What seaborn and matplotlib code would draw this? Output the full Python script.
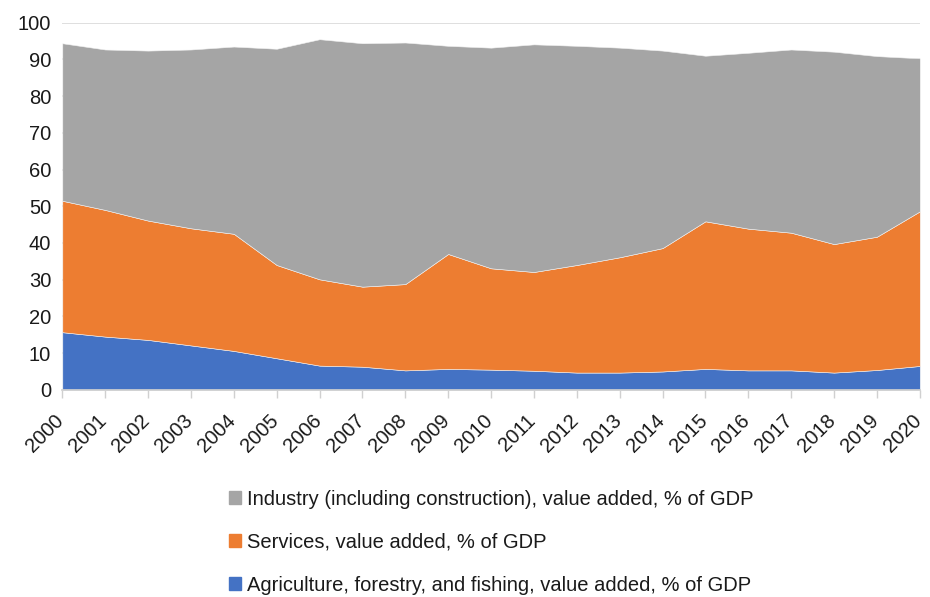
import matplotlib.pyplot as plt
import matplotlib.transforms as mtransforms
import seaborn as sns
from matplotlib.patches import Patch

# data (% of GDP)
years = list(range(2000, 2021))
agriculture = [15.7, 14.5, 13.6, 12.1, 10.6, 8.6, 6.6, 6.3, 5.3, 5.7, 5.5,
               5.2, 4.7, 4.7, 5.0, 5.7, 5.3, 5.3, 4.7, 5.4, 6.5]
agri_plus_services = [51.5, 49.0, 46.1, 44.0, 42.5, 34.0, 30.1, 28.1, 28.8, 37.0, 33.1,
                      32.1, 34.0, 36.1, 38.6, 45.9, 43.9, 42.8, 39.7, 41.7, 48.6]
total = [94.4, 92.7, 92.4, 92.7, 93.5, 92.9, 95.5, 94.4, 94.6, 93.7, 93.2,
         94.1, 93.7, 93.2, 92.4, 91.0, 91.8, 92.7, 92.1, 90.9, 90.3]
services = [s - a for s, a in zip(agri_plus_services, agriculture)]
industry = [t - s for t, s in zip(total, agri_plus_services)]

labels = ["Agriculture, forestry, and fishing, value added, % of GDP",
          "Services, value added, % of GDP",
          "Industry (including construction), value added, % of GDP"]
colors = ["#4472C4", "#ED7D31", "#A5A5A5"]

sns.set_theme(style="white")
plt.rcParams['font.family'] = ['Liberation Sans', 'DejaVu Sans']

fig = plt.figure(figsize=(9.3, 5.97), dpi=100)
ax = fig.add_axes([0.067, 0.347, 0.922, 0.615])

ax.stackplot(years, agriculture, services, industry, colors=colors,
             edgecolor="#f2f2f2", linewidth=0.4, zorder=2)

ax.set_xlim(2000, 2020)
ax.set_ylim(0, 100)
ax.set_yticks(range(0, 101, 10))
ax.set_xticks(years)
ax.set_xticklabels([str(y) for y in years], rotation=45, ha="right",
                   rotation_mode="anchor", fontsize=14.5)
ax.tick_params(axis="y", labelsize=14.5, length=0, pad=8, labelcolor="#1a1a1a")
ax.tick_params(axis="x", length=6, color="#d0d0d0", width=1, bottom=True, pad=9,
               labelcolor="#1a1a1a")
# nudge the rotated year labels a little to the left
shift = mtransforms.ScaledTranslation(-8 / 100, 0, fig.dpi_scale_trans)
for lab in ax.get_xticklabels():
    lab.set_transform(lab.get_transform() + shift)
ax.yaxis.grid(True, color="#d9d9d9", linewidth=1.2, zorder=0)
ax.set_axisbelow(True)
for s in ["left", "right", "top"]:
    ax.spines[s].set_visible(False)
ax.spines["bottom"].set_color("#d0d0d0")

handles = [Patch(color=colors[2]), Patch(color=colors[1]), Patch(color=colors[0])]
fig.legend(handles, [labels[2], labels[1], labels[0]], loc="upper left",
           bbox_to_anchor=(0.246, 0.18), frameon=False, fontsize=14.5,
           labelcolor="#1a1a1a",
           handlelength=0.6, handleheight=0.6, handletextpad=0.3,
           labelspacing=1.2, borderaxespad=0, borderpad=0)

plt.savefig("out.png", dpi=100)
plt.close()
